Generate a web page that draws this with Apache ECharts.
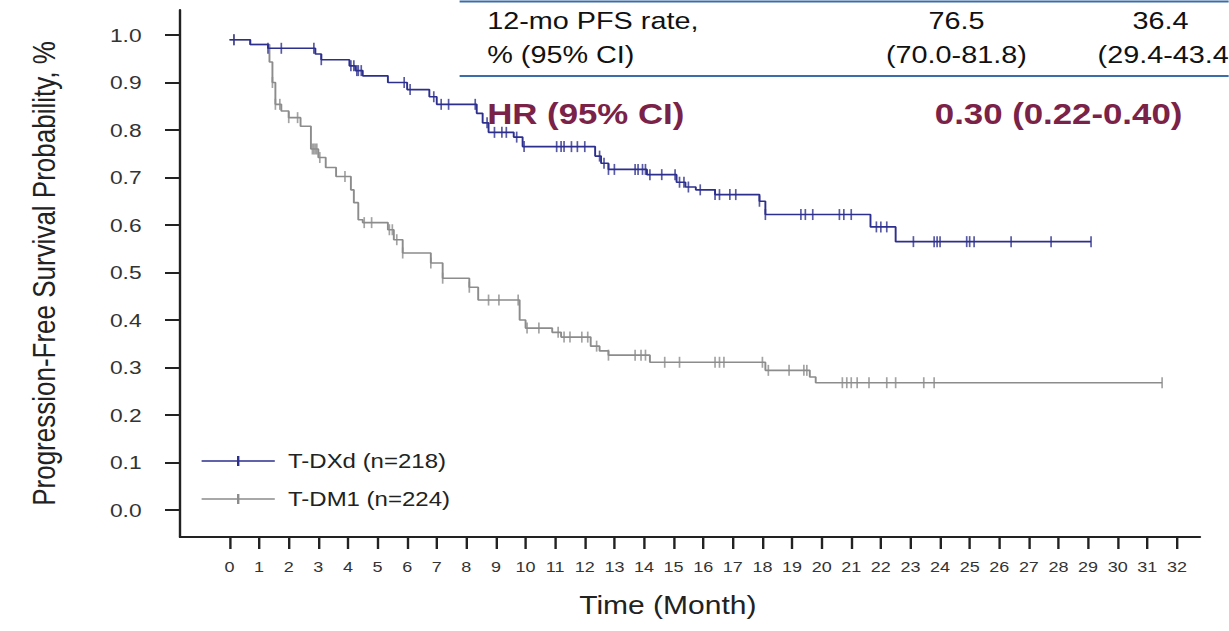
<!DOCTYPE html>
<html>
<head>
<meta charset="utf-8">
<script src="https://cdn.jsdelivr.net/npm/echarts@6/dist/echarts.min.js"></script>
<style>
html,body{margin:0;padding:0;background:#fff;overflow:hidden;width:1229px;height:631px;}
#chart{width:1024px;height:631px;transform:scaleX(1.2);transform-origin:0 0;}
</style>
</head>
<body>
<div id="chart"></div>
<script>
// ---- data ----
const seriesNames = ['T-DXd (n=218)', 'T-DM1 (n=224)'];
const tdxdTime = [0, 0.7, 1.3, 2.9, 3.1, 4.05, 4.25, 4.5, 5.35, 6.0, 6.75, 7.0, 8.35, 8.55, 8.75, 9.6, 9.9, 12.35, 12.55, 12.8, 14.1, 15.1, 15.4, 15.75, 16.4, 17.9, 18.1, 21.65, 22.5, 29.1];
const tdxdSurv = [0.99, 0.98, 0.972, 0.96, 0.948, 0.935, 0.925, 0.914, 0.90, 0.885, 0.87, 0.854, 0.835, 0.815, 0.795, 0.785, 0.765, 0.745, 0.73, 0.717, 0.706, 0.69, 0.68, 0.674, 0.664, 0.65, 0.622, 0.596, 0.565, 0.565];
const tdxdCensor = [0.15, 1.3, 1.75, 2.85, 3.1, 4.1, 4.2, 4.3, 4.35, 4.45, 5.9, 6.1, 6.9, 7.15, 7.4, 8.3, 8.7, 8.95, 9.2, 9.35, 9.7, 9.95, 11.05, 11.2, 11.3, 11.55, 11.75, 12.0, 12.5, 12.65, 12.8, 13.0, 13.7, 13.8, 13.95, 14.05, 14.2, 14.6, 15.05, 15.2, 15.35, 15.5, 15.9, 16.4, 16.55, 16.9, 17.1, 17.9, 18.1, 19.3, 19.45, 19.7, 20.6, 20.75, 21.0, 21.85, 22.0, 22.2, 23.1, 23.8, 23.9, 24.0, 24.9, 25.0, 25.15, 26.4, 27.75, 29.1];

const tdm1Time = [0, 0.7, 1.35, 1.45, 1.55, 1.75, 2.0, 2.4, 2.75, 3.0, 3.25, 3.6, 4.1, 4.2, 4.35, 4.5, 5.35, 5.55, 5.85, 6.8, 7.2, 8.1, 8.4, 9.8, 10.0, 10.9, 11.2, 12.2, 12.5, 12.8, 14.2, 18.1, 19.6, 19.8, 31.5];
const tdm1Surv = [0.99, 0.98, 0.943, 0.90, 0.854, 0.84, 0.826, 0.808, 0.76, 0.742, 0.721, 0.702, 0.674, 0.647, 0.611, 0.605, 0.59, 0.569, 0.541, 0.52, 0.488, 0.469, 0.442, 0.40, 0.383, 0.374, 0.364, 0.345, 0.335, 0.326, 0.311, 0.294, 0.28, 0.268, 0.268];
const tdm1Censor = [0.15, 1.45, 1.55, 1.7, 2.0, 2.3, 2.8, 2.85, 2.9, 2.95, 3.05, 3.9, 4.55, 4.8, 5.4, 5.5, 5.65, 5.85, 6.8, 7.2, 8.1, 8.75, 9.1, 9.75, 10.05, 10.45, 11.1, 11.3, 11.5, 11.9, 12.1, 12.4, 12.8, 13.7, 13.9, 14.05, 14.7, 15.2, 16.4, 16.55, 16.7, 18.0, 18.2, 18.9, 19.4, 19.5, 20.7, 20.85, 21.0, 21.2, 21.6, 22.2, 22.5, 23.45, 23.8, 31.5];

const monthTicks = [0,1,2,3,4,5,6,7,8,9,10,11,12,13,14,15,16,17,18,19,20,21,22,23,24,25,26,27,28,29,30,31,32];
const probTicks = [0, 0.1, 0.2, 0.3, 0.4, 0.5, 0.6, 0.7, 0.8, 0.9, 1.0];

const tableRow1 = ['12-mo PFS rate,', '76.5', '36.4'];
const tableRow2 = ['% (95% CI)', '(70.0-81.8)', '(29.4-43.4'];
const hrRow = ['HR (95% CI)', '0.30 (0.22-0.40)'];

const xAxisName = 'Time (Month)';
const yAxisName = 'Progression-Free Survival Probability, %';

// ---- helpers ----
function stepPoints(times, surv) { return times.map((t, i) => [t, surv[i]]); }
function censorPoints(times, surv, cens) {
  return cens.map(c => {
    let v = surv[0];
    for (let i = 0; i < times.length; i++) { if (times[i] <= c) v = surv[i]; }
    return [c, v];
  });
}

const BLUE = '#2d2f8e';
const GRAY = '#8c8c8c';
const MAROON = '#7a2248';
const TABLE_LINE = '#3a6ea8';
const FONT = 'Liberation Sans, Arial, sans-serif';

const chart = echarts.init(document.getElementById('chart'), null, {renderer: 'svg'});

const tickPath = 'path://M0,4.25h61v1.5h-61z M29.5,0h2v10h-2z';

chart.setOption({
  animation: false,
  backgroundColor: '#fff',
  textStyle: {fontFamily: FONT},
  grid: {left: 150, right: 24, top: 10, bottom: 94, containLabel: false},
  xAxis: {
    type: 'value',
    min: -1.672, max: 32.78,
    name: xAxisName,
    nameLocation: 'middle',
    nameGap: 56,
    nameTextStyle: {fontSize: 25, color: '#222', padding: [0, 37, 0, 0]},
    axisLine: {show: true, onZero: false, lineStyle: {color: '#222', width: 2}},
    axisTick: {show: true, length: 12, lineStyle: {color: '#222', width: 2}, customValues: monthTicks},
    axisLabel: {show: true, fontSize: 15, color: '#333', margin: 23, customValues: monthTicks},
    splitLine: {show: false}
  },
  yAxis: {
    type: 'value',
    min: -0.0568, max: 1.0526,
    name: yAxisName,
    nameLocation: 'middle',
    nameRotate: 90,
    nameGap: 100,
    nameTextStyle: {fontSize: 26, color: '#222'},
    axisLine: {show: true, onZero: false, lineStyle: {color: '#222', width: 2}},
    axisTick: {show: true, length: 12.5, lineStyle: {color: '#222', width: 2}, customValues: probTicks},
    axisLabel: {show: true, fontSize: 19, color: '#333', margin: 32, customValues: probTicks,
      formatter: v => v.toFixed(1)},
    splitLine: {show: false}
  },
  legend: {
    show: true,
    data: seriesNames.map(n => ({name: n, icon: tickPath})),
    orient: 'vertical',
    left: 163, top: 446,
    itemWidth: 61, itemHeight: 10,
    itemGap: 18,
    textStyle: {fontSize: 20, color: '#222', padding: [0, 0, 0, 6]}
  },
  series: [
    {
      name: seriesNames[0], type: 'line', step: 'end', showSymbol: false, symbol: 'none',
      data: stepPoints(tdxdTime, tdxdSurv),
      lineStyle: {color: BLUE, width: 1.6}, itemStyle: {color: BLUE}, z: 3
    },
    {
      name: seriesNames[1], type: 'line', step: 'end', showSymbol: false, symbol: 'none',
      data: stepPoints(tdm1Time, tdm1Surv),
      lineStyle: {color: GRAY, width: 1.6}, itemStyle: {color: GRAY}, z: 2
    },
    {
      name: 'T-DXd censored', type: 'scatter', symbol: 'rect', symbolSize: [1.4, 11],
      data: censorPoints(tdxdTime, tdxdSurv, tdxdCensor),
      itemStyle: {color: BLUE}, z: 3, silent: true
    },
    {
      name: 'T-DM1 censored', type: 'scatter', symbol: 'rect', symbolSize: [1.4, 11],
      data: censorPoints(tdm1Time, tdm1Surv, tdm1Censor),
      itemStyle: {color: GRAY}, z: 2, silent: true
    }
  ],
  graphic: [
    {type: 'line', shape: {x1: 383, y1: 1.5, x2: 1024, y2: 1.5}, style: {stroke: TABLE_LINE, lineWidth: 2}, z: 10},
    {type: 'line', shape: {x1: 383, y1: 76, x2: 1024, y2: 76}, style: {stroke: TABLE_LINE, lineWidth: 2}, z: 10},
    {type: 'text', x: 406, y: 21, style: {text: tableRow1[0], font: '24px ' + FONT, fill: '#111', textAlign: 'left', textVerticalAlign: 'middle'}, z: 10},
    {type: 'text', x: 797, y: 21, style: {text: tableRow1[1], font: '24px ' + FONT, fill: '#111', textAlign: 'center', textVerticalAlign: 'middle'}, z: 10},
    {type: 'text', x: 967, y: 21, style: {text: tableRow1[2], font: '24px ' + FONT, fill: '#111', textAlign: 'center', textVerticalAlign: 'middle'}, z: 10},
    {type: 'text', x: 406, y: 55, style: {text: tableRow2[0], font: '24px ' + FONT, fill: '#111', textAlign: 'left', textVerticalAlign: 'middle'}, z: 10},
    {type: 'text', x: 797, y: 55, style: {text: tableRow2[1], font: '24px ' + FONT, fill: '#111', textAlign: 'center', textVerticalAlign: 'middle'}, z: 10},
    {type: 'text', x: 1024, y: 55, style: {text: tableRow2[2], font: '24px ' + FONT, fill: '#111', textAlign: 'right', textVerticalAlign: 'middle'}, z: 10},
    {type: 'text', x: 406, y: 114, style: {text: hrRow[0], font: 'bold 29px ' + FONT, fill: MAROON, textAlign: 'left', textVerticalAlign: 'middle'}, z: 10},
    {type: 'text', x: 779, y: 114, style: {text: hrRow[1], font: 'bold 29px ' + FONT, fill: MAROON, textAlign: 'left', textVerticalAlign: 'middle'}, z: 10}
  ]
});
</script>
</body>
</html>
